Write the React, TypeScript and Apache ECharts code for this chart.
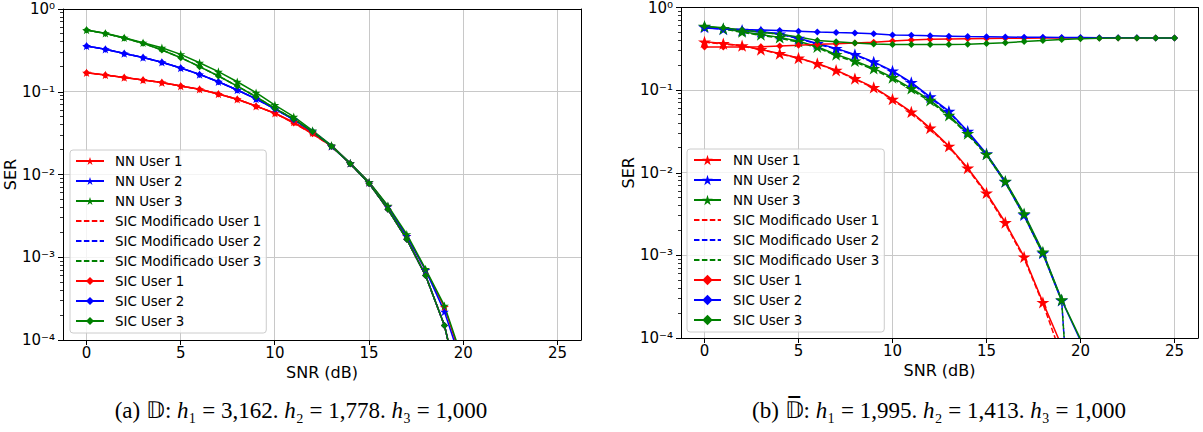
import React, { useEffect, useRef } from "react";
import * as echarts from "echarts";

// ---------- data ----------
const snrShort = [0, 1, 2, 3, 4, 5, 6, 7, 8, 9, 10, 11, 12, 13, 14, 15, 16, 17, 18, 19, 20];
const snrLong = [0, 1, 2, 3, 4, 5, 6, 7, 8, 9, 10, 11, 12, 13, 14, 15, 16, 17, 18, 19, 20, 21, 22, 23, 24, 25];

const xTickValues = [0, 5, 10, 15, 20, 25];
const yGridValues = [1e-3, 1e-2, 1e-1];
const yMinorValues = [
  2e-4, 3e-4, 4e-4, 5e-4, 6e-4, 7e-4, 8e-4, 9e-4,
  2e-3, 3e-3, 4e-3, 5e-3, 6e-3, 7e-3, 8e-3, 9e-3,
  2e-2, 3e-2, 4e-2, 5e-2, 6e-2, 7e-2, 8e-2, 9e-2,
  2e-1, 3e-1, 4e-1, 5e-1, 6e-1, 7e-1, 8e-1, 9e-1,
];

const legendNames = [
  "NN User 1", "NN User 2", "NN User 3",
  "SIC Modificado User 1", "SIC Modificado User 2", "SIC Modificado User 3",
  "SIC User 1", "SIC User 2", "SIC User 3",
];

// (a) D
const aNN1 = [0.17, 0.159, 0.149, 0.139, 0.129, 0.117, 0.107, 0.094, 0.081, 0.067, 0.055, 0.043, 0.032, 0.022, 0.0137, 0.008, 0.0041, 0.0018, 0.0007, 0.00025, 0.00005];
const aNN2 = [0.357, 0.326, 0.29, 0.26, 0.227, 0.194, 0.162, 0.132, 0.105, 0.082, 0.062, 0.046, 0.033, 0.022, 0.0137, 0.008, 0.0041, 0.0018, 0.0007, 0.00022, 0.000045];
const aNN3 = [0.557, 0.508, 0.45, 0.39, 0.34, 0.283, 0.224, 0.175, 0.132, 0.0975, 0.069, 0.05, 0.034, 0.0225, 0.0138, 0.0081, 0.0042, 0.0019, 0.00072, 0.00026, 0.000055];
const aMod1 = [0.17, 0.159, 0.149, 0.139, 0.129, 0.117, 0.107, 0.094, 0.081, 0.067, 0.055, 0.042, 0.031, 0.022, 0.0135, 0.0078, 0.0038, 0.00165, 0.0006, 0.00015, 0.000016];
const aMod2 = [0.357, 0.326, 0.29, 0.26, 0.227, 0.194, 0.162, 0.132, 0.105, 0.082, 0.062, 0.046, 0.033, 0.022, 0.0135, 0.0078, 0.0038, 0.00165, 0.0006, 0.00015, 0.000016];
const aMod3 = [0.557, 0.505, 0.445, 0.385, 0.32, 0.258, 0.201, 0.155, 0.117, 0.087, 0.063, 0.047, 0.033, 0.022, 0.0135, 0.0078, 0.0038, 0.00165, 0.0006, 0.00015, 0.000016];
const aSIC1 = [0.17, 0.159, 0.149, 0.139, 0.129, 0.117, 0.107, 0.094, 0.081, 0.067, 0.055, 0.042, 0.031, 0.022, 0.0135, 0.0078, 0.0038, 0.00165, 0.0006, 0.00015, 0.000016];
const aSIC2 = [0.357, 0.326, 0.29, 0.26, 0.227, 0.194, 0.162, 0.132, 0.105, 0.082, 0.062, 0.046, 0.033, 0.022, 0.0135, 0.0078, 0.0038, 0.00165, 0.0006, 0.00015, 0.000016];
const aSIC3 = [0.557, 0.505, 0.445, 0.385, 0.32, 0.258, 0.201, 0.155, 0.117, 0.087, 0.063, 0.047, 0.033, 0.022, 0.0135, 0.0078, 0.0038, 0.00165, 0.0006, 0.00015, 0.000016];

// (b) D-bar
const bNN1 = [0.384, 0.366, 0.345, 0.31, 0.277, 0.245, 0.21, 0.174, 0.138, 0.108, 0.0777, 0.0545, 0.0348, 0.021, 0.0114, 0.0057, 0.0025, 0.00096, 0.00027, 0.00008, 0.00001];
const bNN2 = [0.58, 0.55, 0.53, 0.51, 0.48, 0.425, 0.366, 0.32, 0.27, 0.22, 0.171, 0.124, 0.083, 0.0556, 0.0318, 0.017, 0.0078, 0.0031, 0.00107, 0.000286, 0.000093];
const bNN3 = [0.594, 0.557, 0.51, 0.47, 0.435, 0.39, 0.335, 0.27, 0.226, 0.183, 0.142, 0.105, 0.0755, 0.0497, 0.0298, 0.0168, 0.0079, 0.0032, 0.0011, 0.00029, 0.000097];
const bMod1 = [0.38, 0.362, 0.342, 0.308, 0.275, 0.243, 0.208, 0.172, 0.136, 0.106, 0.0765, 0.0535, 0.034, 0.0205, 0.0111, 0.0055, 0.0024, 0.00092, 0.00026, 0.00006, 0.000005];
const bMod2 = [0.575, 0.545, 0.525, 0.505, 0.475, 0.42, 0.36, 0.315, 0.266, 0.216, 0.168, 0.121, 0.081, 0.054, 0.031, 0.0165, 0.0076, 0.003, 0.00104, 0.00028, 0.0000001];
const bMod3 = [0.59, 0.55, 0.5, 0.46, 0.425, 0.38, 0.325, 0.262, 0.219, 0.177, 0.137, 0.101, 0.073, 0.048, 0.029, 0.0163, 0.0076, 0.003, 0.00104, 0.00028, 0.0000001];
const bSIC1 = [0.333, 0.333, 0.333, 0.335, 0.343, 0.35, 0.36, 0.365, 0.373, 0.38, 0.394, 0.405, 0.412, 0.417, 0.42, 0.422, 0.424, 0.425, 0.426, 0.427, 0.428, 0.428, 0.428, 0.428, 0.428, 0.428];
const bSIC2 = [0.565, 0.55, 0.54, 0.535, 0.527, 0.517, 0.505, 0.497, 0.49, 0.48, 0.466, 0.46, 0.455, 0.45, 0.445, 0.443, 0.44, 0.437, 0.435, 0.433, 0.432, 0.43, 0.43, 0.429, 0.428, 0.428];
const bSIC3 = [0.594, 0.567, 0.535, 0.505, 0.475, 0.44, 0.4, 0.385, 0.372, 0.362, 0.357, 0.356, 0.356, 0.357, 0.36, 0.366, 0.375, 0.387, 0.4, 0.41, 0.418, 0.424, 0.427, 0.428, 0.428, 0.428];

// ---------- styling constants ----------
const X_MIN = -1.25;
const X_MAX = 26.25;
const Y_MIN = 1e-4;
const Y_MAX = 1;
const RED = "#ff0000";
const BLUE = "#0000ff";
const GREEN = "#008000";
const GRIDC = "#c8c8c8";
const FONT = "DejaVu Sans";
const STAR =
  "path://M0,-100L22.45,-30.9L95.11,-30.9L36.33,11.8L58.78,80.9L0,38.2L-58.78,80.9L-36.33,11.8L-95.11,-30.9L-22.45,-30.9Z";

const SUP: Record<string, string> = { "-": "⁻", "0": "⁰", "1": "¹", "2": "²", "3": "³", "4": "⁴", "5": "⁵" };

function lineSeries(name: string, xs: number[], ys: number[], color: string, kind: string, gi: number, starSize: number, diaSize: number) {
  return {
    name,
    type: "line",
    xAxisIndex: gi * 2,
    yAxisIndex: gi * 2,
    data: ys.map((y, i) => [xs[i], y]),
    lineStyle: { color, width: 1.5, type: kind === "mod" ? [5.5, 2.4] : "solid" },
    itemStyle: { color },
    symbol: kind === "nn" ? STAR : kind === "sic" ? "diamond" : "none",
    symbolSize: kind === "nn" ? starSize : diaSize,
    symbolKeepAspect: true,
    showSymbol: kind !== "mod",
    clip: true,
    silent: true,
    z: 2,
    emphasis: { disabled: true },
  };
}

function decorSeries(gi: number) {
  const crisp = (v: number) => Math.round(v - 0.5) + 0.5;
  return [
    {
      type: "custom",
      xAxisIndex: gi * 2,
      yAxisIndex: gi * 2,
      silent: true,
      z: 1,
      clip: false,
      data: xTickValues.map((x) => [x, Y_MIN]),
      renderItem: (_p: any, api: any) => {
        const x = api.value(0);
        const b = api.coord([x, Y_MIN]);
        const t = api.coord([x, Y_MAX]);
        const cx = crisp(b[0]);
        return {
          type: "group",
          children: [
            { type: "line", shape: { x1: cx, y1: b[1], x2: cx, y2: t[1] }, style: { stroke: GRIDC, lineWidth: 1 } },
            { type: "line", shape: { x1: cx, y1: b[1], x2: cx, y2: b[1] + 5 }, style: { stroke: "#000", lineWidth: 1 } },
          ],
        };
      },
    },
    {
      type: "custom",
      xAxisIndex: gi * 2,
      yAxisIndex: gi * 2,
      silent: true,
      z: 1,
      clip: false,
      data: yGridValues.map((v) => [X_MIN, v]),
      renderItem: (_p: any, api: any) => {
        const v = api.value(1);
        const l = api.coord([X_MIN, v]);
        const r = api.coord([X_MAX, v]);
        const cy = crisp(l[1]);
        return { type: "line", shape: { x1: l[0], y1: cy, x2: r[0], y2: cy }, style: { stroke: GRIDC, lineWidth: 1 } };
      },
    },
    {
      type: "custom",
      xAxisIndex: gi * 2,
      yAxisIndex: gi * 2,
      silent: true,
      z: 3,
      clip: false,
      data: yMinorValues.map((v) => [X_MIN, v]),
      renderItem: (_p: any, api: any) => {
        const v = api.value(1);
        const l = api.coord([X_MIN, v]);
        const cy = crisp(l[1]);
        return { type: "line", shape: { x1: l[0] - 3, y1: cy, x2: l[0], y2: cy }, style: { stroke: "#000", lineWidth: 0.8 } };
      },
    },
  ];
}

function xAxes(gi: number) {
  return [
    {
      type: "value",
      gridIndex: gi,
      min: X_MIN,
      max: X_MAX,
      splitNumber: 5,
      position: "bottom",
      name: "SNR (dB)",
      nameLocation: "middle",
      nameGap: 24,
      nameTextStyle: { fontSize: 16, color: "#000", fontFamily: FONT },
      axisLine: { show: true, onZero: false, lineStyle: { color: "#000", width: 1 } },
      axisTick: { show: false },
      splitLine: { show: false },
      axisLabel: {
        fontSize: 15,
        color: "#000",
        fontFamily: FONT,
        margin: 5,
        formatter: (v: number) => (Math.abs(v % 5) < 1e-9 ? String(Math.round(v)) : ""),
      },
      z: 3,
    },
    {
      type: "value",
      gridIndex: gi,
      min: X_MIN,
      max: X_MAX,
      position: "top",
      axisLine: { show: true, onZero: false, lineStyle: { color: "#000", width: 1 } },
      axisTick: { show: false },
      axisLabel: { show: false },
      splitLine: { show: false },
      z: 3,
    },
  ];
}

function yAxes(gi: number) {
  return [
    {
      type: "log",
      logBase: 10,
      gridIndex: gi,
      min: Y_MIN,
      max: Y_MAX,
      position: "left",
      name: "SER",
      nameLocation: "middle",
      nameGap: 39,
      nameTextStyle: { fontSize: 16, color: "#000", fontFamily: FONT },
      axisLine: { show: true, onZero: false, lineStyle: { color: "#000", width: 1 } },
      axisTick: { show: true, length: 5, lineStyle: { color: "#000", width: 1 } },
      splitLine: { show: false },
      axisLabel: {
        fontSize: 15,
        color: "#000",
        fontFamily: FONT,
        margin: 8,
        formatter: (v: number) => {
          const e = String(Math.round(Math.log10(v)));
          return "10" + e.split("").map((c) => SUP[c] || c).join("");
        },
      },
      z: 3,
    },
    {
      type: "log",
      logBase: 10,
      gridIndex: gi,
      min: Y_MIN,
      max: Y_MAX,
      position: "right",
      axisLine: { show: true, onZero: false, lineStyle: { color: "#000", width: 1 } },
      axisTick: { show: false },
      axisLabel: { show: false },
      splitLine: { show: false },
      z: 3,
    },
  ];
}

function legendBox(left: number, top: number, itemWidth: number, itemHeight: number, textPad: number, padLeft: number) {
  return {
    left,
    top,
    orient: "vertical",
    data: legendNames.map((n) =>
      n.indexOf("Modificado") >= 0 ? { name: n, itemStyle: { opacity: 0 } } : { name: n }
    ),
    itemWidth,
    itemHeight,
    itemGap: 6,
    selectedMode: false,
    backgroundColor: "rgba(255,255,255,0.8)",
    borderColor: "#cccccc",
    borderWidth: 1,
    borderRadius: 3,
    padding: [4, 5, 5, padLeft],
    textStyle: { fontSize: 13.4, color: "#000", fontFamily: FONT, lineHeight: 14, padding: [0, 0, 0, textPad] },
    z: 5,
  };
}

export default function App() {
  const ref = useRef<HTMLDivElement>(null);
  useEffect(() => {
    if (!ref.current) return;
    const chart = echarts.init(ref.current, null, { renderer: "svg" });
    const series: any[] = [
      ...decorSeries(0),
      ...decorSeries(1),
      lineSeries("NN User 1", snrShort, aNN1, RED, "nn", 0, 9, 7),
      lineSeries("NN User 2", snrShort, aNN2, BLUE, "nn", 0, 9, 7),
      lineSeries("NN User 3", snrShort, aNN3, GREEN, "nn", 0, 9, 7),
      lineSeries("SIC Modificado User 1", snrShort, aMod1, RED, "mod", 0, 9, 7),
      lineSeries("SIC Modificado User 2", snrShort, aMod2, BLUE, "mod", 0, 9, 7),
      lineSeries("SIC Modificado User 3", snrShort, aMod3, GREEN, "mod", 0, 9, 7),
      lineSeries("SIC User 1", snrShort, aSIC1, RED, "sic", 0, 9, 7),
      lineSeries("SIC User 2", snrShort, aSIC2, BLUE, "sic", 0, 9, 7),
      lineSeries("SIC User 3", snrShort, aSIC3, GREEN, "sic", 0, 9, 7),
      lineSeries("NN User 1", snrShort, bNN1, RED, "nn", 1, 13, 7),
      lineSeries("NN User 2", snrShort, bNN2, BLUE, "nn", 1, 13, 7),
      lineSeries("NN User 3", snrShort, bNN3, GREEN, "nn", 1, 13, 7),
      lineSeries("SIC Modificado User 1", snrShort, bMod1, RED, "mod", 1, 13, 7),
      lineSeries("SIC Modificado User 2", snrShort, bMod2, BLUE, "mod", 1, 13, 7),
      lineSeries("SIC Modificado User 3", snrShort, bMod3, GREEN, "mod", 1, 13, 7),
      lineSeries("SIC User 1", snrLong, bSIC1, RED, "sic", 1, 13, 7),
      lineSeries("SIC User 2", snrLong, bSIC2, BLUE, "sic", 1, 13, 7),
      lineSeries("SIC User 3", snrLong, bSIC3, GREEN, "sic", 1, 13, 7),
    ];
    chart.setOption({
      animation: false,
      backgroundColor: "#ffffff",
      textStyle: { fontFamily: FONT },
      grid: [
        { left: 63, top: 9, width: 518, height: 331, show: false },
        { left: 681, top: 7, width: 517, height: 331, show: false },
      ],
      xAxis: [...xAxes(0), ...xAxes(1)],
      yAxis: [...yAxes(0), ...yAxes(1)],
      legend: [legendBox(70, 150, 28, 10, 6, 5), legendBox(687, 149, 27, 13, 7, 6)],
      series,
      graphic: [
        {
          type: "text",
          x: 301,
          y: 410,
          silent: true,
          style: {
            text: "(a) 𝔻: {i|h}₁ = 3,162. {i|h}₂ = 1,778. {i|h}₃ = 1,000",
            fontSize: 23,
            fontFamily: "Liberation Serif",
            fill: "#000",
            align: "center",
            verticalAlign: "middle",
            rich: { i: { fontStyle: "italic", fontSize: 23, fontFamily: "Liberation Serif", fill: "#000" } },
          },
        },
        {
          type: "text",
          x: 939,
          y: 410,
          silent: true,
          style: {
            text: "(b) 𝔻\u0305: {i|h}₁ = 1,995. {i|h}₂ = 1,413. {i|h}₃ = 1,000",
            fontSize: 23,
            fontFamily: "Liberation Serif",
            fill: "#000",
            align: "center",
            verticalAlign: "middle",
            rich: { i: { fontStyle: "italic", fontSize: 23, fontFamily: "Liberation Serif", fill: "#000" } },
          },
        },
      ],
    });
    return () => chart.dispose();
  }, []);
  return <div ref={ref} style={{ position: "fixed", left: 0, top: 0, width: 1203, height: 432 }} />;
}
